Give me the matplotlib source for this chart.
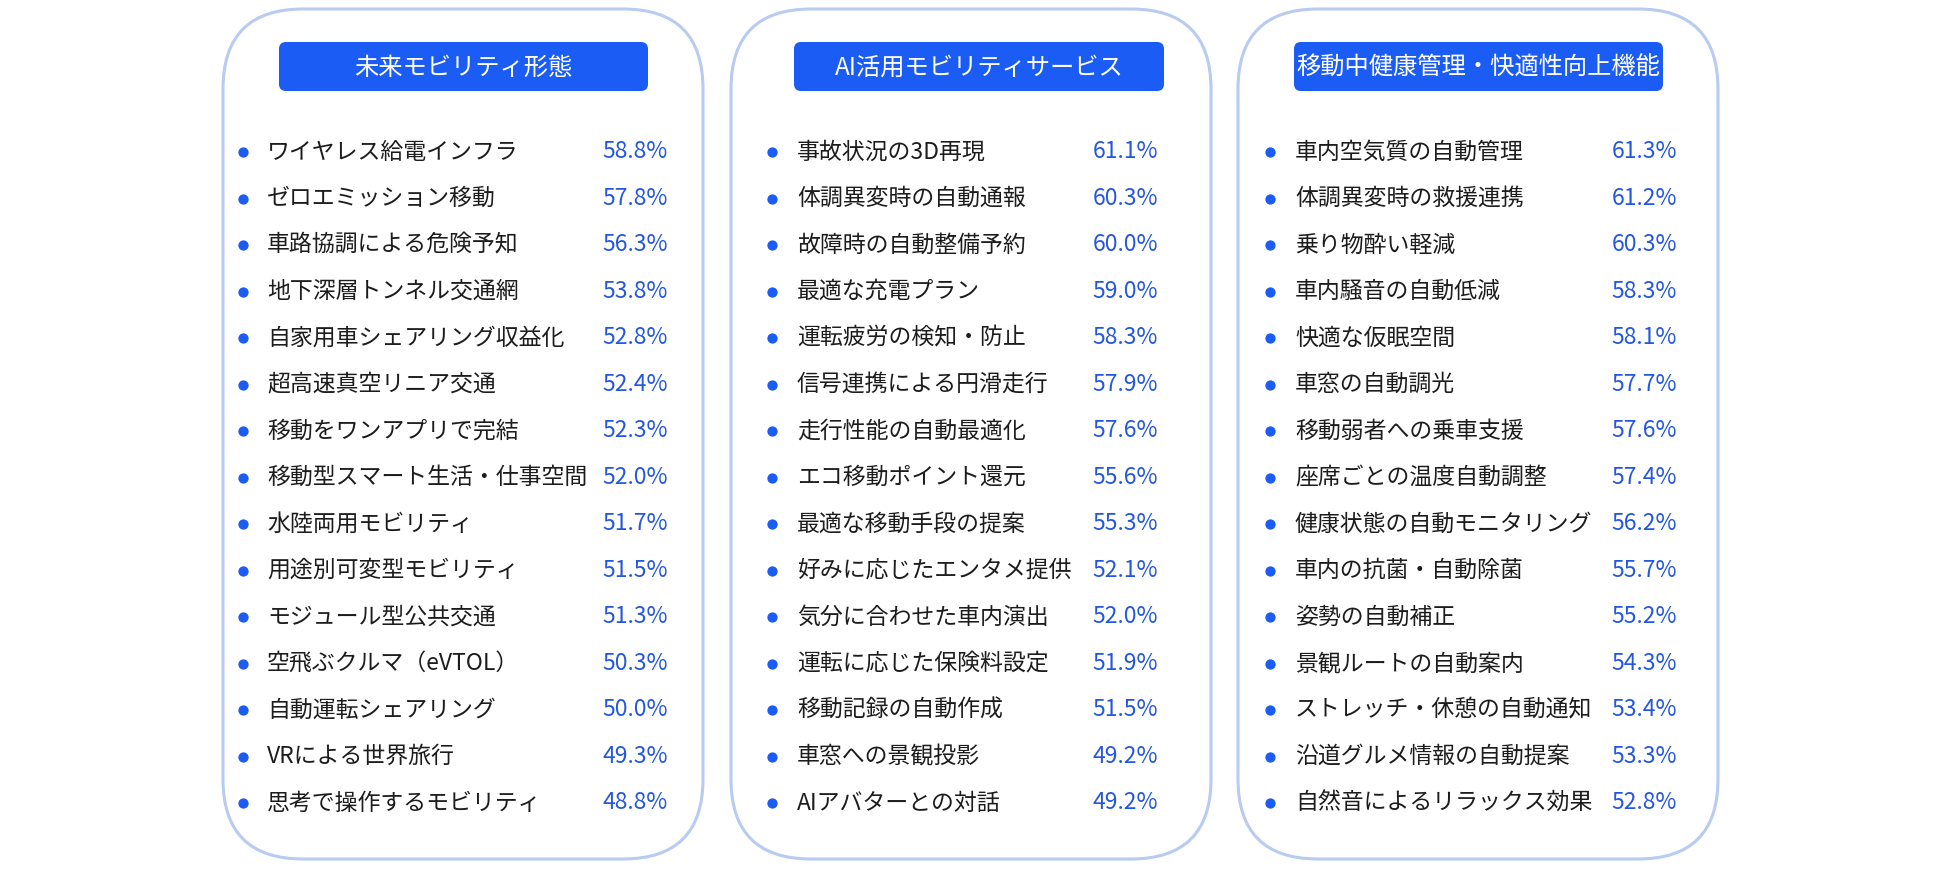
import matplotlib
matplotlib.use("Agg")
import matplotlib.pyplot as plt
from matplotlib.patches import FancyBboxPatch

plt.rcParams['font.family'] = ['Noto Sans CJK JP', 'DejaVu Sans']

# ---------------- data ----------------
titles = ["未来モビリティ形態", "AI活用モビリティサービス", "移動中健康管理・快適性向上機能"]

labels_1 = ["ワイヤレス給電インフラ", "ゼロエミッション移動", "車路協調による危険予知",
            "地下深層トンネル交通網", "自家用車シェアリング収益化", "超高速真空リニア交通",
            "移動をワンアプリで完結", "移動型スマート生活・仕事空間", "水陸両用モビリティ",
            "用途別可変型モビリティ", "モジュール型公共交通", "空飛ぶクルマ（eVTOL）",
            "自動運転シェアリング", "VRによる世界旅行", "思考で操作するモビリティ"]
values_1 = [58.8, 57.8, 56.3, 53.8, 52.8, 52.4, 52.3, 52.0, 51.7, 51.5, 51.3, 50.3, 50.0, 49.3, 48.8]

labels_2 = ["事故状況の3D再現", "体調異変時の自動通報", "故障時の自動整備予約",
            "最適な充電プラン", "運転疲労の検知・防止", "信号連携による円滑走行",
            "走行性能の自動最適化", "エコ移動ポイント還元", "最適な移動手段の提案",
            "好みに応じたエンタメ提供", "気分に合わせた車内演出", "運転に応じた保険料設定",
            "移動記録の自動作成", "車窓への景観投影", "AIアバターとの対話"]
values_2 = [61.1, 60.3, 60.0, 59.0, 58.3, 57.9, 57.6, 55.6, 55.3, 52.1, 52.0, 51.9, 51.5, 49.2, 49.2]

labels_3 = ["車内空気質の自動管理", "体調異変時の救援連携", "乗り物酔い軽減",
            "車内騒音の自動低減", "快適な仮眠空間", "車窓の自動調光",
            "移動弱者への乗車支援", "座席ごとの温度自動調整", "健康状態の自動モニタリング",
            "車内の抗菌・自動除菌", "姿勢の自動補正", "景観ルートの自動案内",
            "ストレッチ・休憩の自動通知", "沿道グルメ情報の自動提案", "自然音によるリラックス効果"]
values_3 = [61.3, 61.2, 60.3, 58.3, 58.1, 57.7, 57.6, 57.4, 56.2, 55.7, 55.2, 54.3, 53.4, 53.3, 52.8]

panels = [(labels_1, values_1), (labels_2, values_2), (labels_3, values_3)]

# ---------------- style / layout ----------------
W, H = 1950, 879
panel_left = [223, 731, 1238]
panel_w = 480
panel_top, panel_bottom = 10, 860
title_boxes = [(279, 648), (794, 1164), (1294, 1663)]
title_y0, title_y1 = 43, 92
bullet_dx = [20, 41, 32]
text_dx = [44, 66, 57]
value_dx = [445, 427, 439]
row_y0, row_step = 152, 46.5

BLUE = "#1b5cf5"
VALUE_BLUE = "#2457e0"
BORDER = "#b8cbf0"
TXT = "#1c1c1c"

fig = plt.figure(figsize=(W / 100, H / 100), dpi=100)
ax = fig.add_axes([0, 0, 1, 1])
ax.set_xlim(0, W)
ax.set_ylim(H, 0)
ax.axis("off")

for p, (labels, values) in enumerate(panels):
    x0 = panel_left[p]
    box = FancyBboxPatch((x0, panel_top), panel_w, panel_bottom - panel_top,
                         boxstyle="round,pad=0,rounding_size=80",
                         facecolor="white", edgecolor=BORDER, linewidth=2.2)
    ax.add_patch(box)
    tx0, tx1 = title_boxes[p]
    tb = FancyBboxPatch((tx0, title_y0), tx1 - tx0, title_y1 - title_y0,
                        boxstyle="round,pad=0,rounding_size=7",
                        facecolor=BLUE, edgecolor="none")
    ax.add_patch(tb)
    ax.text((tx0 + tx1) / 2, (title_y0 + title_y1) / 2, titles[p],
            ha="center", va="center", color="white", fontsize=17.5)
    for i, (lab, val) in enumerate(zip(labels, values)):
        y = row_y0 + i * row_step
        ax.scatter([x0 + bullet_dx[p]], [y + 1], s=55, color=BLUE, zorder=3, linewidths=0)
        ax.text(x0 + text_dx[p], y, lab, ha="left", va="center", color=TXT, fontsize=16.5)
        ax.text(x0 + value_dx[p], y, f"{val:.1f}%", ha="right", va="center",
                color=VALUE_BLUE, fontsize=16.5)

fig.savefig("out.png", dpi=100, facecolor="white")
